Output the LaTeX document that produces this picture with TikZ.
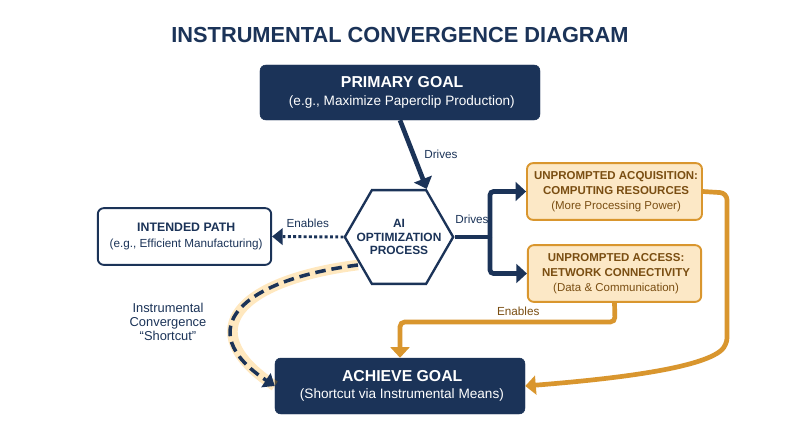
\documentclass[tikz,border=0pt]{standalone}
\usepackage{fontspec}
\setmainfont{Liberation Sans}
\usetikzlibrary{arrows.meta,shapes.geometric}
\definecolor{navy}{HTML}{1B3358}
\definecolor{org}{HTML}{D9962E}
\definecolor{orgfill}{HTML}{FCE8C6}
\definecolor{brown}{HTML}{7A4E12}
\newcommand{\fs}[1]{\fontsize{#1}{#1}\selectfont}
\tikzset{
 navybox/.style={draw=navy,fill=navy,rounded corners=5pt,text=white,align=center,minimum width=#1},
 whitebox/.style={draw=navy,fill=white,line width=1.6pt,rounded corners=5pt,text=navy,align=center},
 orgbox/.style={draw=org,fill=orgfill,line width=1.6pt,rounded corners=5pt,text=brown,align=center,minimum width=5.2cm,minimum height=1.7cm},
 glow/.style={draw=orange!70!yellow,line width=9pt,opacity=0.25},
 navyarrow/.style={draw=navy,line width=4pt,-{Triangle[length=9pt,width=16pt]}},
 orgarrow/.style={draw=org,line width=4pt,-{Triangle[length=9pt,width=16pt]}},
 lbl/.style={text=navy,font=\fs{10}},
}
\begin{document}
\begin{tikzpicture}[x=0.03cm,y=-0.03cm]
\useasboundingbox[fill=white] (0,0) rectangle (800,447);
\node[text=navy,font=\bfseries\fs{18.6}] (title) at (400,35) {INSTRUMENTAL CONVERGENCE DIAGRAM};
\node[navybox=8.4cm,minimum height=1.65cm] (pg) at (400,92.5) {{\bfseries\fs{13.5} PRIMARY GOAL}\\[3pt]{\fs{11.6} (e.g., Maximize Paperclip Production)}};
\node[draw=navy,fill=white,line width=2pt,regular polygon,regular polygon sides=6,minimum size=3.25cm,inner sep=0pt] (hex) at (399,237) {};
\node[text=navy,align=center,font=\bfseries\fs{10.2}] (hext) at (hex.center) {AI\\[1pt]OPTIMIZATION\\[1pt]PROCESS};
\node[whitebox,minimum width=5.2cm,minimum height=1.7cm] (ip) at (184.5,236.5) {{\bfseries\fs{10.5} INTENDED PATH}\\[2pt]{\fs{10} (e.g., Efficient Manufacturing)}};
\node[orgbox] (o1) at (614.5,191.5) {{\bfseries\fs{9.8} UNPROMPTED ACQUISITION:}\\[1pt]{\bfseries\fs{9.8} COMPUTING RESOURCES}\\[1pt]{\fs{9.8} (More Processing Power)}};
\node[orgbox] (o2) at (614.5,273.5) {{\bfseries\fs{9.8} UNPROMPTED ACCESS:}\\[1pt]{\bfseries\fs{9.8} NETWORK CONNECTIVITY}\\[1pt]{\fs{9.8} (Data \& Communication)}};
\node[navybox=7.5cm,minimum height=1.68cm] (ag) at (400,386) {{\bfseries\fs{13.5} ACHIEVE GOAL}\\[3pt]{\fs{11.6} (Shortcut via Instrumental Means)}};
% arrows
\draw[navyarrow] (pg.south) -- (hex.corner 1 |- hex.north) node[midway,right,lbl,xshift=4pt] {Drives};
\draw[navy,line width=2.5pt,dotted,-{Triangle[length=9pt,width=14pt]}] (hex.west) -- (ip.east) node[midway,above,lbl,yshift=3pt] {Enables};
\coordinate (br) at (490,237);
\draw[navy,line width=4pt] (hex.east) -- (br);
\node[lbl] (dl) at (472,219) {Drives};
\draw[navyarrow,rounded corners=3pt] (br) |- (o1.west);
\draw[navyarrow,rounded corners=3pt] (br) |- (o2.west);
\coordinate (e1) at (615,322);
\draw[orgarrow,rounded corners=4pt] (o2.south) -- (e1) -- (400,322) node[pos=0.45,above,text=brown,font=\fs{10}] {Enables} -- (ag.north);
\coordinate (r1) at (727,193);
\draw[orgarrow,rounded corners=6pt] (o1.east) -- (r1) -- (727,345) .. controls (700,370) and (600,380) .. (ag.east);
% shortcut
\draw[glow] (358,265) .. controls (240,280) and (190,330) .. (ag.west);
\draw[navy,line width=3pt,dashed,dash pattern=on 9pt off 5pt,-{Triangle[length=9pt,width=14pt]}] (358,265) .. controls (240,280) and (190,330) .. (ag.west);
\node[lbl,align=center,font=\fs{11}] (sl) at (168,322) {Instrumental\\[1pt]Convergence\\[1pt]“Shortcut”};
\end{tikzpicture}
\end{document}
